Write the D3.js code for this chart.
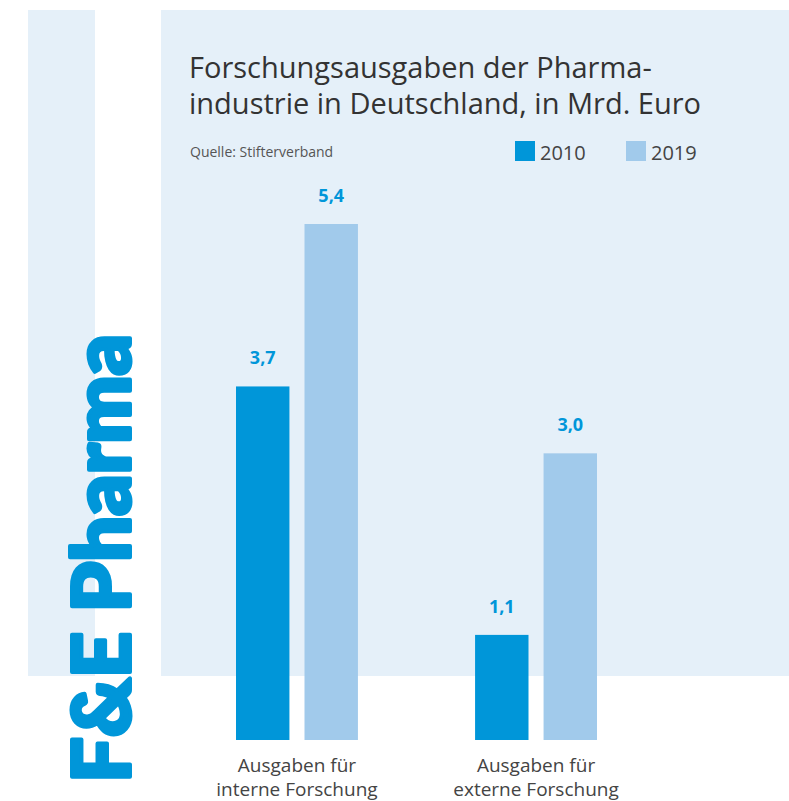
<!DOCTYPE html>
<html>
<head>
<meta charset="utf-8">
<script src="https://d3js.org/d3.v7.min.js"></script>
<style>
  body { margin: 0; background: #fff; }
  svg text { font-family: "Open Sans", "Noto Sans", sans-serif; }
</style>
</head>
<body>
<script>
// data
const categories = ["interne", "externe"];
const categoryLabels = [["Ausgaben für", "interne Forschung"], ["Ausgaben für", "externe Forschung"]];
const series = ["2010", "2019"];
const values2010 = [3.7, 1.1];
const values2019 = [5.4, 3.0];
const valueLabels2010 = ["3,7", "1,1"];
const valueLabels2019 = ["5,4", "3,0"];

const width = 789, height = 801;
const colors = { "2010": "#0096d9", "2019": "#a1caeb" };
const panelFill = "#e5f0f9";

const svg = d3.select("body").append("svg")
    .attr("width", width)
    .attr("height", height);

// background panels
svg.append("rect").attr("x", 28).attr("y", 10).attr("width", 67).attr("height", 666).attr("fill", panelFill);
svg.append("rect").attr("x", 161).attr("y", 10).attr("width", 628).attr("height", 666).attr("fill", panelFill);

// title
const title = svg.append("text")
    .attr("x", 189).attr("y", 78)
    .attr("fill", "#333")
    .style("font-size", "29px");
title.append("tspan").attr("x", 189).text("Forschungsausgaben der Pharma-");
title.append("tspan").attr("x", 189).attr("dy", 36).text("industrie in Deutschland, in Mrd. Euro");

svg.append("text")
    .attr("x", 190).attr("y", 157)
    .attr("fill", "#555")
    .style("font-size", "14px")
    .text("Quelle: Stifterverband");

// legend
const legend = svg.append("g");
const legX = [515, 626];
series.forEach((s, i) => {
    legend.append("rect")
        .attr("x", legX[i]).attr("y", 141)
        .attr("width", 20).attr("height", 20)
        .attr("fill", colors[s]);
    legend.append("text")
        .attr("x", legX[i] + 25).attr("y", 160)
        .attr("fill", "#444")
        .style("font-size", "20px")
        .text(s);
});

// scales
const x0 = d3.scaleBand().domain(categories).range([236, 597]).paddingInner(0.49).paddingOuter(0);
const x1 = d3.scaleBand().domain(series).range([0, x0.bandwidth()]).paddingInner(0.22);
const y = d3.scaleLinear().domain([0, 5.4]).range([740, 224]);

const rows = [];
categories.forEach((c, i) => {
    rows.push({ cat: c, s: "2010", v: values2010[i], label: valueLabels2010[i] });
    rows.push({ cat: c, s: "2019", v: values2019[i], label: valueLabels2019[i] });
});

// bars
svg.append("g").selectAll("rect")
    .data(rows)
    .join("rect")
    .attr("x", d => x0(d.cat) + x1(d.s))
    .attr("y", d => y(d.v))
    .attr("width", x1.bandwidth())
    .attr("height", d => y(0) - y(d.v))
    .attr("fill", d => colors[d.s]);

// value labels
svg.append("g").selectAll("text")
    .data(rows)
    .join("text")
    .attr("x", d => x0(d.cat) + x1(d.s) + x1.bandwidth() / 2)
    .attr("y", d => y(d.v) - 22)
    .attr("text-anchor", "middle")
    .attr("fill", "#0096d9")
    .style("font-size", "18px")
    .style("font-weight", "bold")
    .text(d => d.label);

// category labels, one text per line
const catG = svg.append("g");
categories.forEach((c, i) => {
    categoryLabels[i].forEach((line, j) => {
        catG.append("text")
            .attr("x", x0(c) + x0.bandwidth() / 2)
            .attr("y", 772 + j * 24)
            .attr("text-anchor", "middle")
            .attr("fill", "#444")
            .style("font-size", "19px")
            .text(line);
    });
});

// vertical brand text
svg.append("text")
    .attr("transform", "translate(130,783) rotate(-90)")
    .attr("fill", "#0096d9")
    .attr("stroke", "#0096d9")
    .attr("stroke-width", 4)
    .attr("stroke-linejoin", "round")
    .style("font-family", "Lato, 'Open Sans', sans-serif")
    .style("font-size", "80px")
    .style("font-weight", "900")
    .attr("textLength", 449)
    .attr("lengthAdjust", "spacingAndGlyphs")
    .text("F&E Pharma");
</script>
</body>
</html>
